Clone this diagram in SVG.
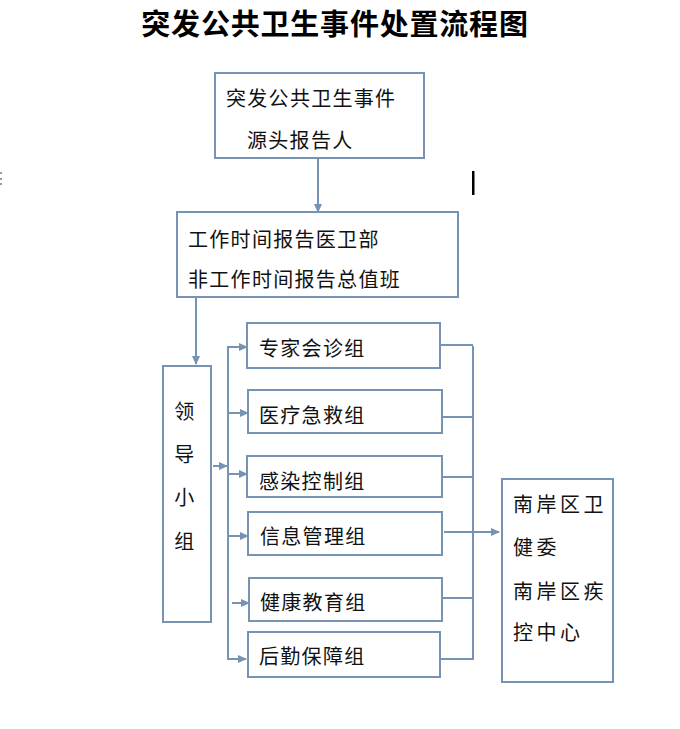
<svg xmlns="http://www.w3.org/2000/svg" width="680" height="729" viewBox="0 0 680 729">
<style>
.box{fill:#fff;stroke:#7793b3;stroke-width:2}
.ln{fill:none;stroke:#7793b3;stroke-width:2}
.t{font-family:"Noto Sans CJK SC","Liberation Sans",sans-serif;font-size:20px;letter-spacing:1.3px;fill:#111}
.title{font-family:"Noto Sans CJK SC","Liberation Serif",serif;font-size:29px;font-weight:bold;letter-spacing:0.8px;fill:#000}
</style>
<defs>
<marker id="ah" markerWidth="9" markerHeight="8" refX="8" refY="4" orient="auto" markerUnits="userSpaceOnUse">
<path d="M0,0 L9,4 L0,8 Z" fill="#7793b3"/>
</marker>
</defs>
<rect width="680" height="729" fill="#fff"/>
<text class="title" x="335" y="35" text-anchor="middle">突发公共卫生事件处置流程图</text>
<rect x="0" y="172" width="2" height="2" fill="#999"/>
<rect x="0" y="178" width="2" height="2" fill="#999"/>
<rect x="0" y="183" width="2" height="2" fill="#999"/>
<rect x="472" y="171" width="2.5" height="24" fill="#000"/>
<g id="connectors">
<line class="ln" x1="318" y1="158" x2="318" y2="212" marker-end="url(#ah)"/>
<line class="ln" x1="196" y1="297" x2="196" y2="364" marker-end="url(#ah)"/>
<line class="ln" x1="213" y1="466" x2="227" y2="466" marker-end="url(#ah)"/>
<polyline class="ln" points="246,347 228,347 228,659 246,659" marker-end="url(#ah)"/>
<line class="ln" x1="228" y1="347" x2="247" y2="347" marker-end="url(#ah)"/>
<line class="ln" x1="228" y1="413" x2="248" y2="413" marker-end="url(#ah)"/>
<line class="ln" x1="228" y1="474" x2="247" y2="474" marker-end="url(#ah)"/>
<line class="ln" x1="228" y1="536" x2="248" y2="536" marker-end="url(#ah)"/>
<line class="ln" x1="232" y1="603" x2="249" y2="603" marker-end="url(#ah)"/>
<line class="ln" x1="473" y1="346" x2="473" y2="660"/>
<line class="ln" x1="440" y1="345" x2="473" y2="345"/>
<line class="ln" x1="442" y1="417" x2="473" y2="417"/>
<line class="ln" x1="442" y1="477" x2="473" y2="477"/>
<line class="ln" x1="444" y1="532" x2="499" y2="532" marker-end="url(#ah)"/>
<line class="ln" x1="442" y1="598" x2="473" y2="598"/>
<line class="ln" x1="440" y1="659" x2="473" y2="659"/>
</g>
<g id="reporter">
<rect class="box" x="215" y="73" width="209" height="85"/>
<text class="t" x="226" y="106">突发公共卫生事件</text>
<text class="t" x="247" y="148">源头报告人</text>
</g>
<g id="report-office">
<rect class="box" x="177" y="212" width="281" height="85"/>
<text class="t" x="188" y="247">工作时间报告医卫部</text>
<text class="t" x="188" y="287">非工作时间报告总值班</text>
</g>
<g id="leader">
<rect class="box" x="163" y="366" width="48" height="256"/>
<text class="t" x="185" y="419" text-anchor="middle">领</text>
<text class="t" x="185" y="462" text-anchor="middle">导</text>
<text class="t" x="185" y="505" text-anchor="middle">小</text>
<text class="t" x="185" y="549" text-anchor="middle">组</text>
</g>
<g id="g1">
<rect class="box" x="247" y="323" width="193" height="45"/>
<text class="t" x="259" y="356">专家会诊组</text>
</g>
<g id="g2">
<rect class="box" x="248" y="390" width="194" height="43"/>
<text class="t" x="259" y="423">医疗急救组</text>
</g>
<g id="g3">
<rect class="box" x="247" y="456" width="195" height="41"/>
<text class="t" x="259" y="489">感染控制组</text>
</g>
<g id="g4">
<rect class="box" x="248" y="512" width="194" height="43"/>
<text class="t" x="260" y="544">信息管理组</text>
</g>
<g id="g5">
<rect class="box" x="249" y="578" width="193" height="43"/>
<text class="t" x="260" y="610">健康教育组</text>
</g>
<g id="g6">
<rect class="box" x="248" y="632" width="192" height="45"/>
<text class="t" x="259" y="664">后勤保障组</text>
</g>
<g id="district">
<rect class="box" x="502" y="479" width="111" height="203"/>
<text class="t" x="513" y="512" style="letter-spacing:3.5px">南岸区卫</text>
<text class="t" x="513" y="555" style="letter-spacing:3.5px">健委</text>
<text class="t" x="513" y="599" style="letter-spacing:3.5px">南岸区疾</text>
<text class="t" x="513" y="640" style="letter-spacing:3.5px">控中心</text>
</g>
</svg>
